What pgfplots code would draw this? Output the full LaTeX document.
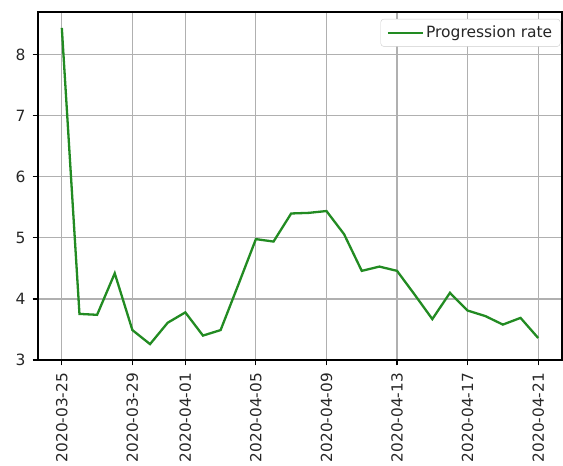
\documentclass[border=0pt]{standalone}
\usepackage{pgfplots}
\pgfplotsset{compat=1.18}
\usepackage{fontspec}
\setmainfont{DejaVu Sans}
\definecolor{lineg}{HTML}{228B22}
\definecolor{gridc}{HTML}{B0B0B0}
\pgfplotstableread{
d v
0 8.44
1 3.755
2 3.74
3 4.42
4 3.49
5 3.26
6 3.61
7 3.78
8 3.40
9 3.49
10 4.23
11 4.98
12 4.94
13 5.40
14 5.41
15 5.44
16 5.06
17 4.46
18 4.53
19 4.46
20 4.07
21 3.67
22 4.10
23 3.81
24 3.72
25 3.58
26 3.69
27 3.36
}\rates
\begin{document}
\begin{tikzpicture}
\begin{axis}[
  scale only axis,
  width=524bp, height=348bp,
  xmin=-1.35, xmax=28.35,
  ymin=3, ymax=8.7,
  xtick={0,4,7,11,15,19,23,27},
  xticklabels={2020-03-25,2020-03-29,2020-04-01,2020-04-05,2020-04-09,2020-04-13,2020-04-17,2020-04-21},
  ytick={3,4,5,6,7,8},
  tick pos=left,
  xticklabel style={rotate=90, anchor=east, font=\fontsize{15.3bp}{18bp}\selectfont, color=black!85, inner sep=0bp, xshift=-7.5bp},
  yticklabel style={font=\fontsize{15.5bp}{18bp}\selectfont, color=black!85, inner sep=0bp, xshift=-7bp},
  /pgf/number format/assume math mode=true,
  tick align=outside,
  major tick length=5.4bp,
  tick style={black, line width=1.2bp},
  axis line style={black, line width=1.2bp},
  grid=major,
  major grid style={gridc, line width=1.2bp},
  legend style={at={(rel axis cs:0.997,0.98)}, anchor=north east,
    draw=black!20, rounded corners=3bp, font=\fontsize{15.5bp}{18bp}\selectfont,
    inner xsep=6bp, inner ysep=5bp, text=black!85},
  legend cell align=left,
  legend image code/.code={\draw[#1] (0bp,0bp) -- (35bp,0bp);},
]
\addplot[lineg, line width=2.3bp] table[x=d, y=v] {\rates};
\addlegendentry{Progression rate}
\end{axis}
\path (current axis.south west) ++(-38bp,-106bp) coordinate (bl);
\path (current axis.north east) ++(1bp,12bp) coordinate (tr);
\path (bl) rectangle (tr);
\end{tikzpicture}
\end{document}
